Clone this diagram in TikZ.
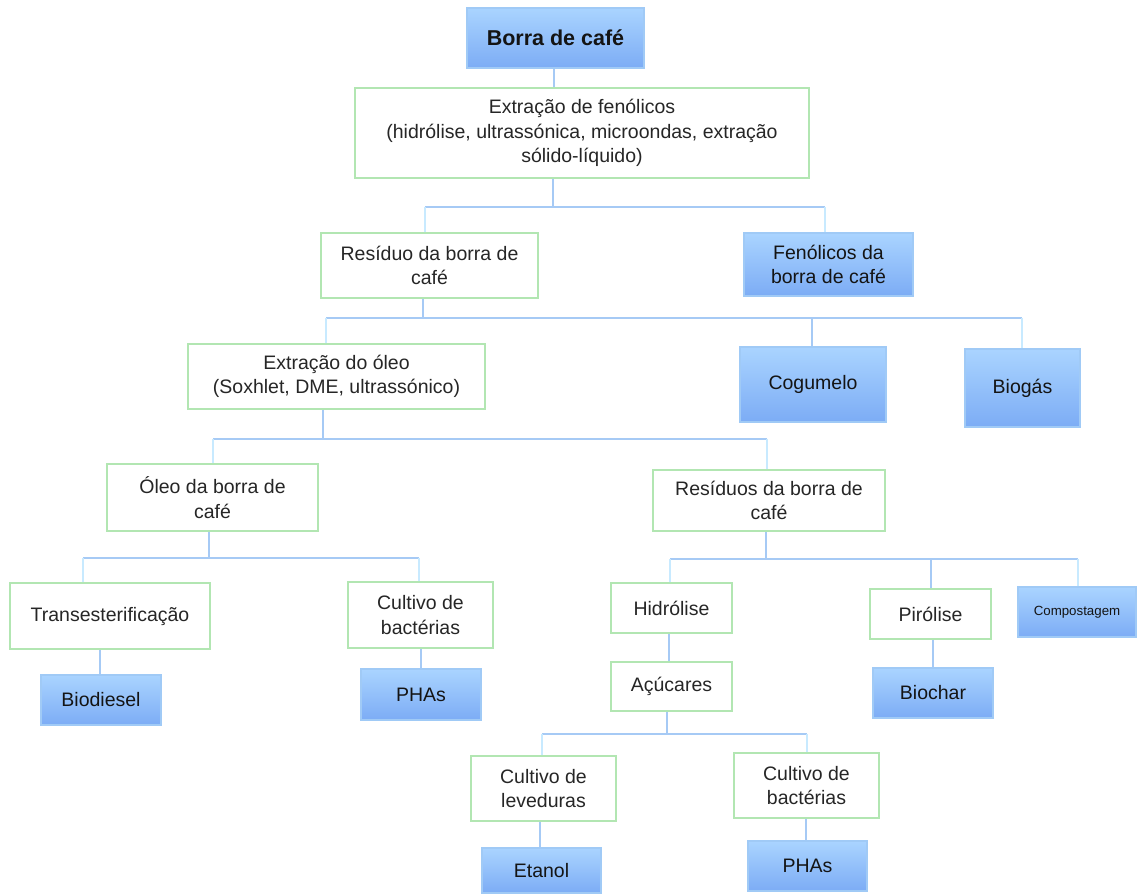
\documentclass[tikz,border=0pt]{standalone}
\usepackage{fontspec}
\setmainfont{Liberation Sans}
\definecolor{greenbd}{RGB}{178,230,178}
\definecolor{bluebd}{RGB}{160,202,246}
\definecolor{bluetop}{RGB}{170,212,255}
\definecolor{bluebot}{RGB}{124,172,245}
\definecolor{linkc}{RGB}{166,202,245}
\definecolor{linkp}{RGB}{200,234,255}
\definecolor{txtg}{RGB}{38,38,38}
\newcommand{\bx}[7]{%
  \node[#6, minimum width={(#4-#2)*1pt}, minimum height={(#5-#3)*1pt}]
    (#1) at ({(#2+#4)/2},{-(#3+#5)/2}) {#7};}
\begin{document}
\begin{tikzpicture}[x=1pt,y=1pt,
  base/.style={rectangle, inner sep=0pt, align=center, line width=1.5pt},
  gbox/.style={base, draw=greenbd, fill=white, text=txtg,
    font=\fontsize{19.5}{24.5}\selectfont},
  bbox/.style={base, draw=bluebd, top color=bluetop, bottom color=bluebot,
    text=black!92, font=\fontsize{19.5}{24.5}\selectfont},
  link/.style={draw=linkc, line width=1.6pt},
  linkpale/.style={draw=linkp, line width=1.6pt}]
\useasboundingbox (0,0) rectangle (1137,-894);
\fill[white] (0,0) rectangle (1137,-894);

% boxes
\bx{borra}{467}{8}{644}{68}{bbox,font=\bfseries\fontsize{21.5}{24}\selectfont}{Borra de café}
\bx{extf}{355}{88}{809}{178}{gbox}{Extração de fenólicos\\(hidrólise, ultrassónica, microondas, extração\\sólido-líquido)}
\bx{res}{321}{233}{538}{298}{gbox}{Resíduo da borra de\\café}
\bx{fen}{744}{233}{913}{296}{bbox}{Fenólicos da\\borra de café}
\bx{exto}{188}{344}{485}{409}{gbox}{Extração do óleo\\(Soxhlet, DME, ultrassónico)}
\bx{cog}{740}{347}{886}{422}{bbox}{Cogumelo}
\bx{bgas}{965}{349}{1080}{427}{bbox}{Biogás}
\bx{oleo}{107}{464}{318}{531}{gbox}{Óleo da borra de\\café}
\bx{resd}{653}{470}{885}{531}{gbox}{Resíduos da borra de\\café}
\bx{trans}{10}{583}{210}{649}{gbox}{Transesterificação}
\bx{cultb}{348}{582}{493}{648}{gbox}{Cultivo de\\bactérias}
\bx{biod}{41}{675}{161}{725}{bbox}{Biodiesel}
\bx{phaa}{361}{669}{481}{720}{bbox}{PHAs}
\bx{hidr}{611}{583}{732}{633}{gbox}{Hidrólise}
\bx{acuc}{611}{662}{732}{711}{gbox}{Açúcares}
\bx{piro}{870}{589}{991}{639}{gbox}{Pirólise}
\bx{bchar}{873}{668}{993}{718}{bbox}{Biochar}
\bx{comp}{1018}{587}{1136}{637}{bbox,font=\fontsize{13.3}{15}\selectfont}{Compostagem}
\bx{cultl}{471}{756}{616}{821}{gbox}{Cultivo de\\leveduras}
\bx{cultb2}{734}{753}{879}{818}{gbox}{Cultivo de\\bactérias}
\bx{etan}{482}{848}{601}{893}{bbox}{Etanol}
\bx{phab}{748}{841}{867}{891}{bbox}{PHAs}

% level 1
\draw[link] (borra.south -| 554,0) -- (extf.north -| 554,0);
% level 2
\draw[link] (extf.south -| 553,0) -- (553,-207);
\draw[link] (425,-207) -- (825,-207);
\draw[linkpale] (res.north -| 425,0) -- (425,-207);
\draw[linkpale] (fen.north -| 825,0) -- (825,-207);
% level 3
\draw[link] (res.south -| 423,0) -- (423,-318);
\draw[link] (326,-318) -- (1022,-318);
\draw[linkpale] (exto.north -| 326,0) -- (326,-318);
\draw[link] (cog.north -| 812,0) -- (812,-318);
\draw[linkpale] (bgas.north -| 1022,0) -- (1022,-318);
% level 4
\draw[link] (exto.south -| 323,0) -- (323,-439);
\draw[link] (213,-439) -- (767,-439);
\draw[linkpale] (oleo.north -| 213,0) -- (213,-439);
\draw[linkpale] (resd.north -| 767,0) -- (767,-439);
% level 5 left
\draw[link] (oleo.south -| 209,0) -- (209,-558);
\draw[link] (83,-558) -- (419,-558);
\draw[linkpale] (trans.north -| 83,0) -- (83,-558);
\draw[linkpale] (cultb.north -| 419,0) -- (419,-558);
\draw[link] (trans.south -| 100,0) -- (biod.north -| 100,0);
\draw[link] (cultb.south -| 421,0) -- (phaa.north -| 421,0);
% level 5 right
\draw[link] (resd.south -| 766,0) -- (766,-559);
\draw[link] (670,-559) -- (1078,-559);
\draw[linkpale] (hidr.north -| 670,0) -- (670,-559);
\draw[link] (piro.north -| 931,0) -- (931,-559);
\draw[linkpale] (comp.north -| 1078,0) -- (1078,-559);
\draw[link] (hidr.south -| 669,0) -- (acuc.north -| 669,0);
\draw[link] (piro.south -| 933,0) -- (bchar.north -| 933,0);
% level 6
\draw[link] (acuc.south -| 667,0) -- (667,-734);
\draw[link] (542,-734) -- (807,-734);
\draw[linkpale] (cultl.north -| 542,0) -- (542,-734);
\draw[linkpale] (cultb2.north -| 807,0) -- (807,-734);
\draw[link] (cultl.south -| 540,0) -- (etan.north -| 540,0);
\draw[link] (cultb2.south -| 806,0) -- (phab.north -| 806,0);
\end{tikzpicture}
\end{document}
